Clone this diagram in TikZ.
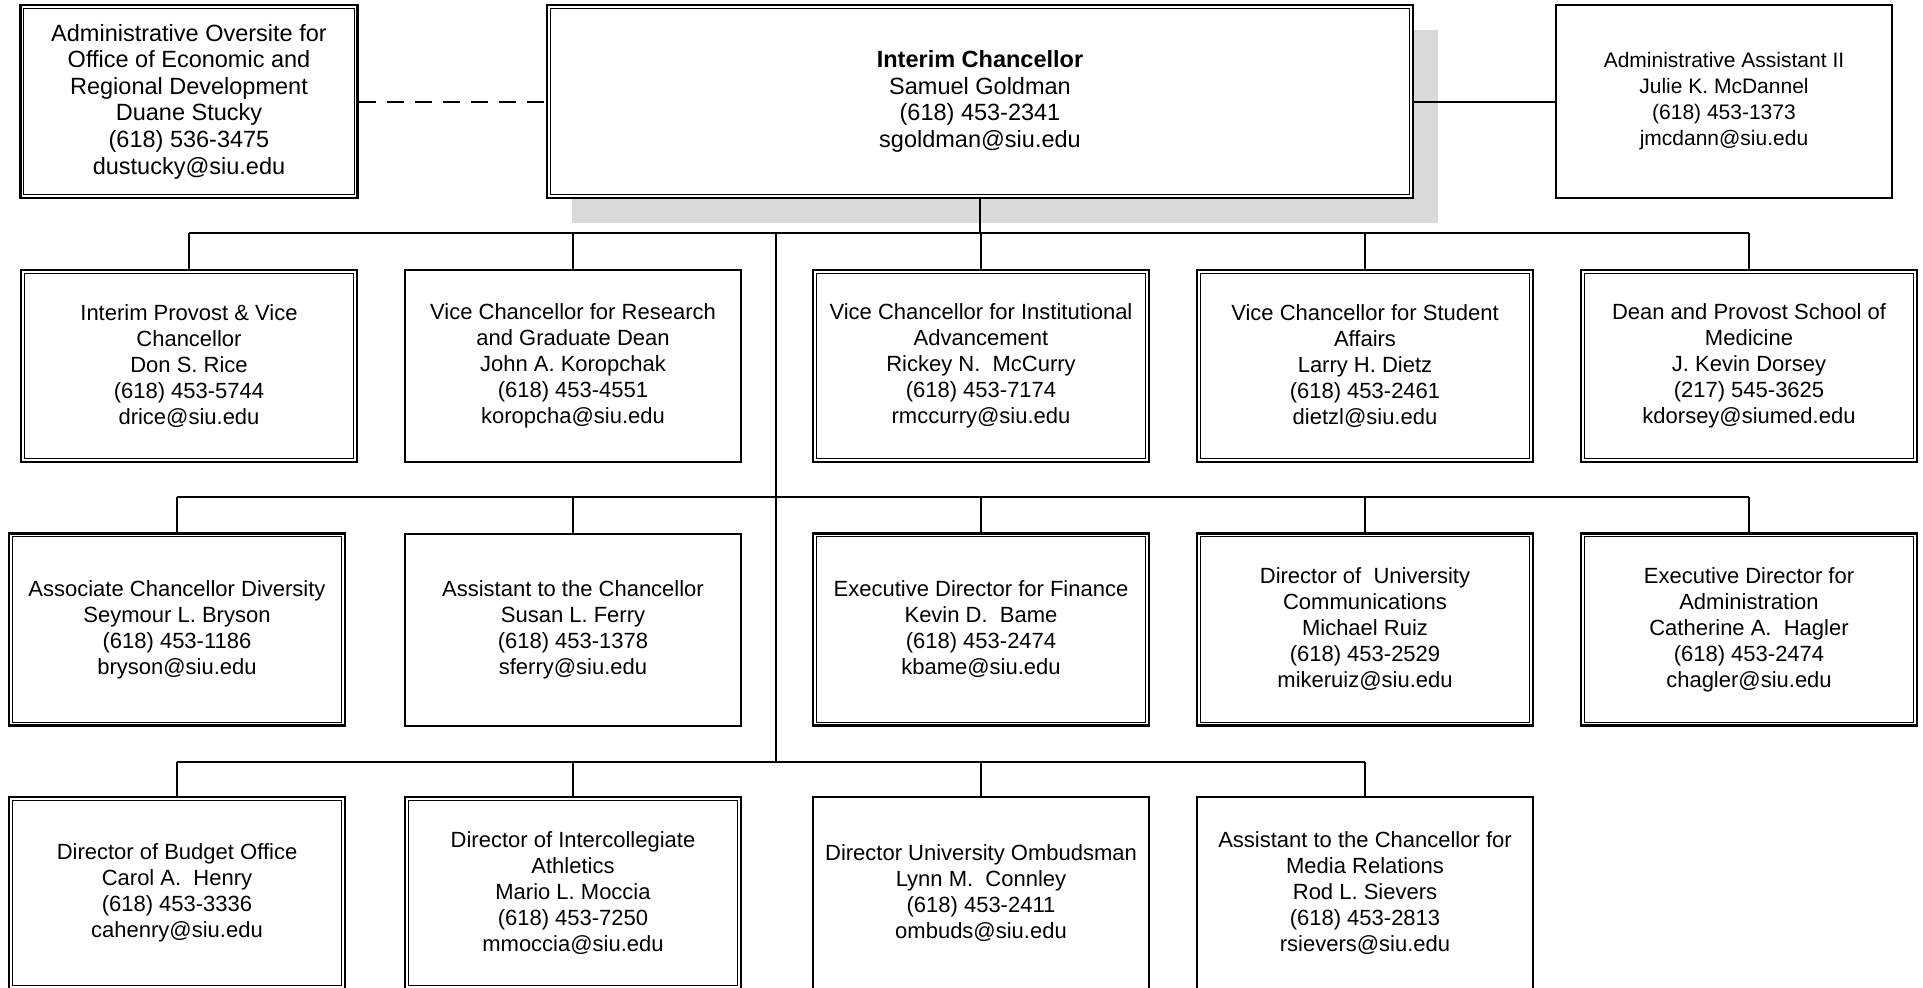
\documentclass[tikz,border=0pt]{standalone}
\usepackage{fontspec}
\setmainfont{Liberation Sans}
\usetikzlibrary{shadows}
\definecolor{shadowgray}{RGB}{217,217,217}
\begin{document}
\begin{tikzpicture}[x=1pt,y=-1pt,
  every node/.style={inner sep=0pt, align=center},
  sbox/.style={draw, line width=2pt, minimum width=336pt, minimum height=192pt,
    font=\fontsize{22}{26}\selectfont, fill=white},
  dbox/.style={sbox, line width=2.6pt},
  inner/.style={line width=1.2pt},
  conn/.style={line width=2pt},
  dashconn/.style={line width=2pt, dash pattern=on 17pt off 11pt}]
\fill[white] (0,0) rectangle (1923,988);
\useasboundingbox (0,0) rectangle (1923,988);

% top row
\node[dbox, minimum width=337pt, minimum height=193pt, font=\fontsize{23.5}{26.6}\selectfont] (ao) at (189,101.5)
  {Administrative Oversite for\\Office of Economic and\\Regional Development\\Duane Stucky\\(618) 536-3475\\dustucky@siu.edu};
\node[dbox, minimum width=866pt, minimum height=193pt, font=\fontsize{23.5}{26.6}\selectfont,
  drop shadow={shadow xshift=25pt, shadow yshift=-25pt, fill=shadowgray, opacity=1, draw=none}] (ch) at (980,101.5)
  {\textbf{Interim Chancellor}\\Samuel Goldman\\(618) 453-2341\\sgoldman@siu.edu};
\node[sbox, minimum height=193pt, font=\fontsize{21}{26}\selectfont] (aa) at (1724,101.5)
  {Administrative Assistant II\\Julie K. McDannel\\(618) 453-1373\\jmcdann@siu.edu};

% row 1
\node[dbox] (r1a) at (189,366) {Interim Provost \& Vice\\Chancellor\\Don S. Rice\\(618) 453-5744\\drice@siu.edu};
\node[sbox] (r1b) at (573,366) {Vice Chancellor for Research\\and Graduate Dean\\John A. Koropchak\\(618) 453-4551\\koropcha@siu.edu};
\node[dbox] (r1c) at (981,366) {Vice Chancellor for Institutional\\Advancement\\Rickey N.~~McCurry\\(618) 453-7174\\rmccurry@siu.edu};
\node[dbox] (r1d) at (1365,366) {Vice Chancellor for Student\\Affairs\\Larry H. Dietz\\(618) 453-2461\\dietzl@siu.edu};
\node[dbox] (r1e) at (1749,366) {Dean and Provost School of\\Medicine\\J. Kevin Dorsey\\(217) 545-3625\\kdorsey@siumed.edu};

% row 2
\node[dbox] (r2a) at (177,629.5) {Associate Chancellor Diversity\\Seymour L. Bryson\\(618) 453-1186\\bryson@siu.edu};
\node[sbox] (r2b) at (573,629.5) {Assistant to the Chancellor\\Susan L. Ferry\\(618) 453-1378\\sferry@siu.edu};
\node[dbox] (r2c) at (981,629.5) {Executive Director for Finance\\Kevin D.~~Bame\\(618) 453-2474\\kbame@siu.edu};
\node[dbox] (r2d) at (1365,629.5) {Director of~~University\\Communications\\Michael Ruiz\\(618) 453-2529\\mikeruiz@siu.edu};
\node[dbox] (r2e) at (1749,629.5) {Executive Director for\\Administration\\Catherine A.~~Hagler\\(618) 453-2474\\chagler@siu.edu};

% row 3
\node[dbox] (r3a) at (177,893) {Director of Budget Office\\Carol A.~~Henry\\(618) 453-3336\\cahenry@siu.edu};
\node[dbox] (r3b) at (573,893) {Director of Intercollegiate\\Athletics\\Mario L. Moccia\\(618) 453-7250\\mmoccia@siu.edu};
\node[sbox] (r3c) at (981,893) {Director University Ombudsman\\Lynn M.~~Connley\\(618) 453-2411\\ombuds@siu.edu};
\node[sbox] (r3d) at (1365,893) {Assistant to the Chancellor for\\Media Relations\\Rod L. Sievers\\(618) 453-2813\\rsievers@siu.edu};

% inner lines of double boxes
\foreach \n in {ao,ch,r1a,r1c,r1d,r1e,r2a,r2c,r2d,r2e,r3a,r3b}
  \draw[inner] ([xshift=4.5pt,yshift=-4.5pt]\n.north west) rectangle ([xshift=-4.5pt,yshift=4.5pt]\n.south east);

% connectors
\coordinate (b1) at (0,233);
\coordinate (b2) at (0,497);
\coordinate (b3) at (0,762);
\coordinate (trunk) at (776,233);

\draw[dashconn] (ao.east) -- (ch.west);
\draw[conn] (ch.east) -- (aa.west);
\draw[conn] (ch.south) -- (ch.south |- b1);
\draw[conn] (r1a.north |- b1) -- (r1e.north |- b1);
\foreach \n in {r1a,r1b,r1c,r1d,r1e}
  \draw[conn] (\n.north) -- (\n.north |- b1);
\draw[conn] (trunk) -- (trunk |- b3);
\draw[conn] (r2a.north |- b2) -- (r2e.north |- b2);
\foreach \n in {r2a,r2b,r2c,r2d,r2e}
  \draw[conn] (\n.north) -- (\n.north |- b2);
\draw[conn] (r3a.north |- b3) -- (r3d.north |- b3);
\foreach \n in {r3a,r3b,r3c,r3d}
  \draw[conn] (\n.north) -- (\n.north |- b3);
\end{tikzpicture}
\end{document}
